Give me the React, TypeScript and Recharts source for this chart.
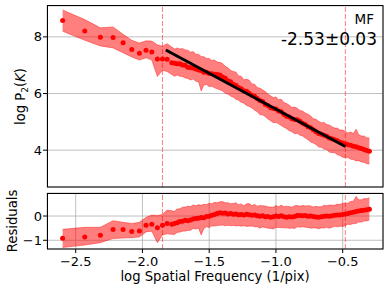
import {
  ComposedChart,
  Line,
  Area,
  XAxis,
  YAxis,
  CartesianGrid,
  ReferenceLine,
} from "recharts";

// log spatial frequency of each bin
const freq = [
  -2.598, -2.432, -2.315, -2.22, -2.145, -2.08, -2.023, -1.973, -1.93, -1.888, -1.85, -1.815,
  -1.78, -1.76, -1.74, -1.72, -1.7, -1.68, -1.66, -1.64, -1.62, -1.6,
  -1.58, -1.56, -1.54, -1.52, -1.5, -1.48, -1.46, -1.44, -1.42, -1.4,
  -1.38, -1.36, -1.34, -1.32, -1.3, -1.28, -1.26, -1.24, -1.22, -1.2,
  -1.18, -1.16, -1.14, -1.12, -1.1, -1.08, -1.06, -1.04, -1.02, -1.0,
  -0.98, -0.96, -0.94, -0.92, -0.9, -0.88, -0.86, -0.84, -0.82, -0.8,
  -0.78, -0.76, -0.74, -0.72, -0.7, -0.68, -0.66, -0.64, -0.62, -0.6,
  -0.58, -0.56, -0.54, -0.52, -0.5, -0.48, -0.46, -0.44, -0.42, -0.4,
  -0.38, -0.36, -0.34, -0.32, -0.3,
];

// log P2(K)
const logP = [
  8.58, 8.21, 7.99, 7.98, 7.79, 7.55, 7.42, 7.53, 7.47, 7.22, 7.22, 7.21,
  7.09, 7.07, 7.05, 7.05, 7.01, 7.0, 6.93, 6.91, 6.9, 6.87,
  6.83, 6.81, 6.75, 6.75, 6.71, 6.7, 6.68, 6.67, 6.65, 6.58,
  6.54, 6.45, 6.42, 6.33, 6.29, 6.21, 6.17, 6.1, 6.08, 6.01,
  5.94, 5.9, 5.82, 5.75, 5.72, 5.62, 5.58, 5.5, 5.47, 5.45,
  5.38, 5.36, 5.27, 5.2, 5.17, 5.11, 5.08, 5.07, 5.02, 4.95,
  4.91, 4.83, 4.79, 4.72, 4.65, 4.59, 4.56, 4.53, 4.49, 4.43,
  4.4, 4.37, 4.33, 4.28, 4.25, 4.22, 4.19, 4.17, 4.14, 4.12,
  4.09, 4.06, 4.02, 3.99, 3.96,
];

// upper / lower error
const errUp = [
  0.37, 0.4, 0.33, 0.37, 0.3, 0.33, 0.36, 0.33, 0.38, 0.5, 0.45, 0.55,
  0.55, 0.5, 0.56, 0.52, 0.58, 0.54, 0.6, 0.55, 0.58, 0.52,
  0.56, 0.5, 0.55, 0.49, 0.53, 0.47, 0.5, 0.44, 0.45, 0.48,
  0.42, 0.46, 0.4, 0.45, 0.47, 0.41, 0.44, 0.38, 0.43, 0.46,
  0.4, 0.43, 0.39, 0.44, 0.41, 0.45, 0.4, 0.42, 0.39, 0.43,
  0.4, 0.44, 0.41, 0.45, 0.42, 0.4, 0.44, 0.41, 0.38, 0.43,
  0.4, 0.44, 0.42, 0.39, 0.44, 0.43, 0.41, 0.45, 0.42, 0.46,
  0.43, 0.41, 0.45, 0.43, 0.46, 0.44, 0.42, 0.47, 0.45, 0.62,
  0.46, 0.44, 0.48, 0.45, 0.47,
];
const errDn = [
  0.38, 0.33, 0.31, 0.37, 0.35, 0.26, 0.24, 0.27, 0.29, 0.62, 0.4, 0.43,
  0.42, 0.46, 0.4, 0.44, 0.41, 0.45, 0.4, 0.43, 0.39, 0.44,
  0.41, 0.72, 0.45, 0.43, 0.47, 0.44, 0.48, 0.5, 0.52, 0.49,
  0.53, 0.47, 0.51, 0.46, 0.49, 0.45, 0.48, 0.44, 0.5, 0.47,
  0.45, 0.49, 0.46, 0.5, 0.47, 0.44, 0.48, 0.46, 0.5, 0.47,
  0.45, 0.49, 0.46, 0.44, 0.48, 0.46, 0.5, 0.47, 0.49, 0.45,
  0.48, 0.46, 0.5, 0.47, 0.45, 0.48, 0.46, 0.49, 0.47, 0.5,
  0.48, 0.46, 0.49, 0.47, 0.5, 0.48, 0.45, 0.49, 0.47, 0.5,
  0.46, 0.48, 0.45, 0.47, 0.45,
];

// power-law fit over the dashed range
const fitSlope = -2.533;
const fitIntercept = 2.917;
const fitLine = [
  { x: -1.825, y: 7.54 },
  { x: -0.48, y: 4.133 },
];
const fitRange = [-1.85, -0.48];

const xTicks = [-2.5, -2.0, -1.5, -1.0, -0.5];
const topTicks = [4, 6, 8];
const resTicks = [-1, 0];
const xDomain = [-2.715, -0.198];
const topDomain = [2.7, 9.09];
const resDomain = [-1.36, 0.95];

const mainData = freq.map((x, i) => ({
  x,
  y: logP[i],
  band: [logP[i] - errDn[i], logP[i] + errUp[i]],
}));

const resData = freq.map((x, i) => {
  const m = fitIntercept + fitSlope * x;
  return {
    x,
    y: logP[i] - m,
    band: [logP[i] - errDn[i] - m, logP[i] + errUp[i] - m],
  };
});

const RED = "#ff0000";
const FONT = "DejaVu Sans, sans-serif";
const minus = (v: number, d: number) => v.toFixed(d).replace("-", "\u2212");
const tickStyle = { fill: "#000", fontSize: 13, fontFamily: FONT };
const dot = { r: 2.5, fill: RED, stroke: "none", strokeWidth: 0 };

function Dashed() {
  return (
    <>
      {fitRange.map((v) => (
        <ReferenceLine key={v} x={v} stroke={RED} strokeOpacity={0.5} strokeDasharray="5 2" />
      ))}
    </>
  );
}

export default function App() {
  return (
    <div style={{ position: "absolute", left: 0, top: 0, width: 390, height: 291, background: "#fff" }}>
      {/* top panel: spectrum */}
      <div style={{ position: "absolute", left: 0, top: 0 }}>
        <ComposedChart width={390} height={200} data={mainData} margin={{ top: 6, right: 7, bottom: 0, left: 0 }}>
          <CartesianGrid stroke="#b0b0b0" strokeWidth={0.8} />
          <XAxis
            type="number"
            dataKey="x"
            domain={xDomain}
            ticks={xTicks}
            allowDataOverflow
            tick={false}
            tickSize={4}
            height={13}
            axisLine={false}
            tickLine={{ stroke: "#000" }}
          />
          <YAxis
            type="number"
            domain={topDomain}
            ticks={topTicks}
            allowDataOverflow
            width={47}
            tickSize={4}
            tickMargin={1}
            tick={tickStyle}
            axisLine={false}
            tickLine={{ stroke: "#000" }}
          />
          <Area
            type="linear"
            dataKey="band"
            fill={RED}
            fillOpacity={0.5}
            stroke={RED}
            strokeOpacity={0.4}
            strokeWidth={1}
            isAnimationActive={false}
            activeDot={false}
          />
          <Line type="linear" dataKey="y" stroke="none" dot={dot} activeDot={false} isAnimationActive={false} />
        </ComposedChart>
      </div>
      {/* top panel overlay: fit line above the points */}
      <div style={{ position: "absolute", left: 0, top: 0 }}>
        <ComposedChart width={390} height={200} margin={{ top: 6, right: 7, bottom: 13, left: 47 }}>
          <XAxis type="number" dataKey="x" domain={xDomain} allowDataOverflow hide />
          <YAxis type="number" domain={topDomain} allowDataOverflow hide />
          <Line
            data={fitLine}
            type="linear"
            dataKey="y"
            stroke="#000"
            strokeWidth={2.8}
            dot={false}
            activeDot={false}
            isAnimationActive={false}
          />
          {Dashed()}
        </ComposedChart>
      </div>
      {/* bottom panel: residuals */}
      <div style={{ position: "absolute", left: 0, top: 187 }}>
        <ComposedChart width={390} height={104} data={resData} margin={{ top: 6, right: 7, bottom: 0, left: 0 }}>
          <CartesianGrid stroke="#b0b0b0" strokeWidth={0.8} />
          <XAxis
            type="number"
            dataKey="x"
            domain={xDomain}
            ticks={xTicks}
            allowDataOverflow
            tickSize={4}
            tickMargin={4}
            height={42}
            tick={tickStyle}
            tickFormatter={(v: number) => minus(v, 1)}
            axisLine={false}
            tickLine={{ stroke: "#000" }}
          />
          <YAxis
            type="number"
            domain={resDomain}
            ticks={resTicks}
            allowDataOverflow
            width={47}
            tickSize={4}
            tickMargin={1}
            tick={tickStyle}
            tickFormatter={(v: number) => minus(v, 0)}
            axisLine={false}
            tickLine={{ stroke: "#000" }}
          />
          <Area
            type="linear"
            dataKey="band"
            fill={RED}
            fillOpacity={0.5}
            stroke={RED}
            strokeOpacity={0.4}
            strokeWidth={1}
            isAnimationActive={false}
            activeDot={false}
          />
          <Line type="linear" dataKey="y" stroke="none" dot={dot} activeDot={false} isAnimationActive={false} />
          {Dashed()}
        </ComposedChart>
      </div>
      <svg
        width={390}
        height={291}
        style={{ position: "absolute", left: 0, top: 0, pointerEvents: "none" }}
        fontFamily={FONT}
      >
        <rect x={47.5} y={5.5} width={335.5} height={181.5} fill="none" stroke="#000" strokeWidth={1} />
        <rect x={47.5} y={193.5} width={335.5} height={55.5} fill="none" stroke="#000" strokeWidth={1} />
        <text x={374} y={24} textAnchor="end" fontSize={13.5}>MF</text>
        <text x={377} y={45} textAnchor="end" fontSize={17}>-2.53±0.03</text>
        <text x={215} y={281} textAnchor="middle" fontSize={13.2}>log Spatial Frequency (1/pix)</text>
        <text transform="translate(24.5,96.5) rotate(-90)" textAnchor="middle" fontSize={13.2}>
          log P<tspan dy={3} fontSize={9}>2</tspan>
          <tspan dy={-3}>(</tspan>
          <tspan fontStyle="italic">K</tspan>)
        </text>
        <text transform="translate(16.5,221) rotate(-90)" textAnchor="middle" fontSize={13.2}>Residuals</text>
      </svg>
    </div>
  );
}
